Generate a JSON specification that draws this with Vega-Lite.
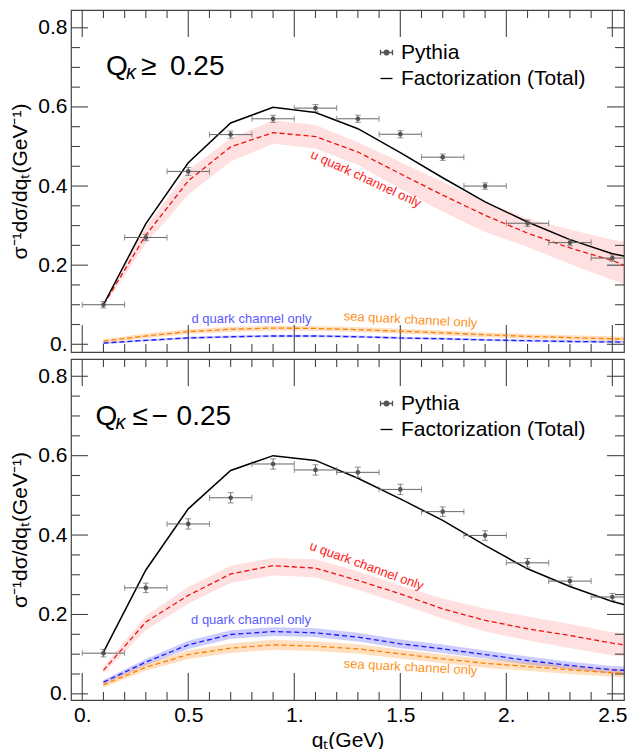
{
  "$schema": "https://vega.github.io/schema/vega-lite/v6.json",
  "padding": {"left": 9, "top": 8, "right": 4, "bottom": 0},
  "config": {
    "font": "Liberation Sans",
    "view": {"stroke": "#444444", "strokeWidth": 1.2},
    "axis": {"labelFont": "Liberation Sans", "titleFont": "Liberation Sans", "labelColor": "#000000", "titleColor": "#000000", "titleFontWeight": "normal", "grid": false, "domain": false, "ticks": false, "labelFlush": false, "labelOverlap": false, "labelFontSize": 21, "labelPadding": 4, "titleFontSize": 21},
    "axisY": {"titlePadding": 7},
    "axisX": {"titlePadding": 4},
    "text": {"font": "Liberation Sans"},
    "rule": {"color": "#444444", "strokeWidth": 1.1}
  },
  "datasets": {
    "top_xmaj": [
      {"v": 0, "b1": -0.0195, "b2": 0.0488, "t1": 0.7767, "t2": 0.845}, {"v": 0.5, "b1": -0.0195, "b2": 0.0488, "t1": 0.7767, "t2": 0.845},
      {"v": 1, "b1": -0.0195, "b2": 0.0488, "t1": 0.7767, "t2": 0.845}, {"v": 1.5, "b1": -0.0195, "b2": 0.0488, "t1": 0.7767, "t2": 0.845},
      {"v": 2, "b1": -0.0195, "b2": 0.0488, "t1": 0.7767, "t2": 0.845}, {"v": 2.5, "b1": -0.0195, "b2": 0.0488, "t1": 0.7767, "t2": 0.845}
    ],
    "top_xmin": [
      {"v": 0.1, "b1": -0.0195, "b2": 0.0007, "t1": 0.8248, "t2": 0.845}, {"v": 0.2, "b1": -0.0195, "b2": 0.0007, "t1": 0.8248, "t2": 0.845},
      {"v": 0.3, "b1": -0.0195, "b2": 0.0007, "t1": 0.8248, "t2": 0.845}, {"v": 0.4, "b1": -0.0195, "b2": 0.0007, "t1": 0.8248, "t2": 0.845},
      {"v": 0.6, "b1": -0.0195, "b2": 0.0007, "t1": 0.8248, "t2": 0.845}, {"v": 0.7, "b1": -0.0195, "b2": 0.0007, "t1": 0.8248, "t2": 0.845},
      {"v": 0.8, "b1": -0.0195, "b2": 0.0007, "t1": 0.8248, "t2": 0.845}, {"v": 0.9, "b1": -0.0195, "b2": 0.0007, "t1": 0.8248, "t2": 0.845},
      {"v": 1.1, "b1": -0.0195, "b2": 0.0007, "t1": 0.8248, "t2": 0.845}, {"v": 1.2, "b1": -0.0195, "b2": 0.0007, "t1": 0.8248, "t2": 0.845},
      {"v": 1.3, "b1": -0.0195, "b2": 0.0007, "t1": 0.8248, "t2": 0.845}, {"v": 1.4, "b1": -0.0195, "b2": 0.0007, "t1": 0.8248, "t2": 0.845},
      {"v": 1.6, "b1": -0.0195, "b2": 0.0007, "t1": 0.8248, "t2": 0.845}, {"v": 1.7, "b1": -0.0195, "b2": 0.0007, "t1": 0.8248, "t2": 0.845},
      {"v": 1.8, "b1": -0.0195, "b2": 0.0007, "t1": 0.8248, "t2": 0.845}, {"v": 1.9, "b1": -0.0195, "b2": 0.0007, "t1": 0.8248, "t2": 0.845},
      {"v": 2.1, "b1": -0.0195, "b2": 0.0007, "t1": 0.8248, "t2": 0.845}, {"v": 2.2, "b1": -0.0195, "b2": 0.0007, "t1": 0.8248, "t2": 0.845},
      {"v": 2.3, "b1": -0.0195, "b2": 0.0007, "t1": 0.8248, "t2": 0.845}, {"v": 2.4, "b1": -0.0195, "b2": 0.0007, "t1": 0.8248, "t2": 0.845}
    ],
    "bot_xmaj": [
      {"v": 0, "b1": -0.0155, "b2": 0.0525, "t1": 0.7755, "t2": 0.8435}, {"v": 0.5, "b1": -0.0155, "b2": 0.0525, "t1": 0.7755, "t2": 0.8435},
      {"v": 1, "b1": -0.0155, "b2": 0.0525, "t1": 0.7755, "t2": 0.8435}, {"v": 1.5, "b1": -0.0155, "b2": 0.0525, "t1": 0.7755, "t2": 0.8435},
      {"v": 2, "b1": -0.0155, "b2": 0.0525, "t1": 0.7755, "t2": 0.8435}, {"v": 2.5, "b1": -0.0155, "b2": 0.0525, "t1": 0.7755, "t2": 0.8435}
    ],
    "bot_xmin": [
      {"v": 0.1, "b1": -0.0155, "b2": 0.0047, "t1": 0.8233, "t2": 0.8435}, {"v": 0.2, "b1": -0.0155, "b2": 0.0047, "t1": 0.8233, "t2": 0.8435},
      {"v": 0.3, "b1": -0.0155, "b2": 0.0047, "t1": 0.8233, "t2": 0.8435}, {"v": 0.4, "b1": -0.0155, "b2": 0.0047, "t1": 0.8233, "t2": 0.8435},
      {"v": 0.6, "b1": -0.0155, "b2": 0.0047, "t1": 0.8233, "t2": 0.8435}, {"v": 0.7, "b1": -0.0155, "b2": 0.0047, "t1": 0.8233, "t2": 0.8435},
      {"v": 0.8, "b1": -0.0155, "b2": 0.0047, "t1": 0.8233, "t2": 0.8435}, {"v": 0.9, "b1": -0.0155, "b2": 0.0047, "t1": 0.8233, "t2": 0.8435},
      {"v": 1.1, "b1": -0.0155, "b2": 0.0047, "t1": 0.8233, "t2": 0.8435}, {"v": 1.2, "b1": -0.0155, "b2": 0.0047, "t1": 0.8233, "t2": 0.8435},
      {"v": 1.3, "b1": -0.0155, "b2": 0.0047, "t1": 0.8233, "t2": 0.8435}, {"v": 1.4, "b1": -0.0155, "b2": 0.0047, "t1": 0.8233, "t2": 0.8435},
      {"v": 1.6, "b1": -0.0155, "b2": 0.0047, "t1": 0.8233, "t2": 0.8435}, {"v": 1.7, "b1": -0.0155, "b2": 0.0047, "t1": 0.8233, "t2": 0.8435},
      {"v": 1.8, "b1": -0.0155, "b2": 0.0047, "t1": 0.8233, "t2": 0.8435}, {"v": 1.9, "b1": -0.0155, "b2": 0.0047, "t1": 0.8233, "t2": 0.8435},
      {"v": 2.1, "b1": -0.0155, "b2": 0.0047, "t1": 0.8233, "t2": 0.8435}, {"v": 2.2, "b1": -0.0155, "b2": 0.0047, "t1": 0.8233, "t2": 0.8435},
      {"v": 2.3, "b1": -0.0155, "b2": 0.0047, "t1": 0.8233, "t2": 0.8435}, {"v": 2.4, "b1": -0.0155, "b2": 0.0047, "t1": 0.8233, "t2": 0.8435}
    ],
    "ymaj": [
      {"v": 0, "l1": -0.053, "l2": 0.0272, "r1": 2.4748, "r2": 2.555}, {"v": 0.2, "l1": -0.053, "l2": 0.0272, "r1": 2.4748, "r2": 2.555},
      {"v": 0.4, "l1": -0.053, "l2": 0.0272, "r1": 2.4748, "r2": 2.555}, {"v": 0.6, "l1": -0.053, "l2": 0.0272, "r1": 2.4748, "r2": 2.555},
      {"v": 0.8, "l1": -0.053, "l2": 0.0272, "r1": 2.4748, "r2": 2.555}
    ],
    "ymin": [
      {"v": 0.05, "l1": -0.053, "l2": -0.0105, "r1": 2.5125, "r2": 2.555}, {"v": 0.1, "l1": -0.053, "l2": -0.0105, "r1": 2.5125, "r2": 2.555},
      {"v": 0.15, "l1": -0.053, "l2": -0.0105, "r1": 2.5125, "r2": 2.555}, {"v": 0.25, "l1": -0.053, "l2": -0.0105, "r1": 2.5125, "r2": 2.555},
      {"v": 0.3, "l1": -0.053, "l2": -0.0105, "r1": 2.5125, "r2": 2.555}, {"v": 0.35, "l1": -0.053, "l2": -0.0105, "r1": 2.5125, "r2": 2.555},
      {"v": 0.45, "l1": -0.053, "l2": -0.0105, "r1": 2.5125, "r2": 2.555}, {"v": 0.5, "l1": -0.053, "l2": -0.0105, "r1": 2.5125, "r2": 2.555},
      {"v": 0.55, "l1": -0.053, "l2": -0.0105, "r1": 2.5125, "r2": 2.555}, {"v": 0.65, "l1": -0.053, "l2": -0.0105, "r1": 2.5125, "r2": 2.555},
      {"v": 0.7, "l1": -0.053, "l2": -0.0105, "r1": 2.5125, "r2": 2.555}, {"v": 0.75, "l1": -0.053, "l2": -0.0105, "r1": 2.5125, "r2": 2.555}
    ],
    "top_theory": [
      {"x": 0.1, "total": 0.100, "u": 0.100, "ulo": 0.094, "uhi": 0.106, "d": 0.003, "dlo": 0.001, "dhi": 0.005, "s": 0.008, "slo": 0.003, "shi": 0.013},
      {"x": 0.3, "total": 0.305, "u": 0.276, "ulo": 0.255, "uhi": 0.297, "d": 0.010, "dlo": 0.007, "dhi": 0.013, "s": 0.021, "slo": 0.015, "shi": 0.027},
      {"x": 0.5, "total": 0.459, "u": 0.413, "ulo": 0.378, "uhi": 0.440, "d": 0.016, "dlo": 0.013, "dhi": 0.019, "s": 0.032, "slo": 0.026, "shi": 0.038},
      {"x": 0.7, "total": 0.5595, "u": 0.499, "ulo": 0.462, "uhi": 0.521, "d": 0.019, "dlo": 0.016, "dhi": 0.022, "s": 0.038, "slo": 0.032, "shi": 0.044},
      {"x": 0.9, "total": 0.599, "u": 0.535, "ulo": 0.507, "uhi": 0.566, "d": 0.021, "dlo": 0.018, "dhi": 0.024, "s": 0.041, "slo": 0.035, "shi": 0.047},
      {"x": 1.1, "total": 0.586, "u": 0.525, "ulo": 0.495, "uhi": 0.554, "d": 0.021, "dlo": 0.018, "dhi": 0.024, "s": 0.040, "slo": 0.034, "shi": 0.046},
      {"x": 1.3, "total": 0.545, "u": 0.486, "ulo": 0.453, "uhi": 0.511, "d": 0.019, "dlo": 0.016, "dhi": 0.022, "s": 0.037, "slo": 0.031, "shi": 0.043},
      {"x": 1.5, "total": 0.4845, "u": 0.431, "ulo": 0.393, "uhi": 0.461, "d": 0.016, "dlo": 0.013, "dhi": 0.019, "s": 0.033, "slo": 0.027, "shi": 0.039},
      {"x": 1.7, "total": 0.421, "u": 0.377, "ulo": 0.335, "uhi": 0.410, "d": 0.014, "dlo": 0.011, "dhi": 0.017, "s": 0.029, "slo": 0.023, "shi": 0.035},
      {"x": 1.9, "total": 0.360, "u": 0.326, "ulo": 0.284, "uhi": 0.360, "d": 0.011, "dlo": 0.008, "dhi": 0.014, "s": 0.024, "slo": 0.018, "shi": 0.030},
      {"x": 2.1, "total": 0.309, "u": 0.281, "ulo": 0.246, "uhi": 0.318, "d": 0.009, "dlo": 0.006, "dhi": 0.012, "s": 0.020, "slo": 0.014, "shi": 0.026},
      {"x": 2.3, "total": 0.2645, "u": 0.2435, "ulo": 0.203, "uhi": 0.290, "d": 0.007, "dlo": 0.004, "dhi": 0.010, "s": 0.017, "slo": 0.011, "shi": 0.023},
      {"x": 2.5, "total": 0.229, "u": 0.212, "ulo": 0.163, "uhi": 0.264, "d": 0.006, "dlo": 0.003, "dhi": 0.009, "s": 0.014, "slo": 0.008, "shi": 0.020},
      {"x": 2.555, "total": 0.223, "u": 0.200, "ulo": 0.150, "uhi": 0.259, "d": 0.0055, "dlo": 0.0025, "dhi": 0.0085, "s": 0.013, "slo": 0.007, "shi": 0.019}
    ],
    "top_pythia": [
      {"x": 0.1, "xlo": 0.0, "xhi": 0.2, "y": 0.100, "ylo": 0.092, "yhi": 0.108},
      {"x": 0.3, "xlo": 0.2, "xhi": 0.4, "y": 0.270, "ylo": 0.262, "yhi": 0.278},
      {"x": 0.5, "xlo": 0.4, "xhi": 0.6, "y": 0.437, "ylo": 0.427, "yhi": 0.447},
      {"x": 0.7, "xlo": 0.6, "xhi": 0.8, "y": 0.530, "ylo": 0.521, "yhi": 0.539},
      {"x": 0.9, "xlo": 0.8, "xhi": 1.0, "y": 0.570, "ylo": 0.561, "yhi": 0.579},
      {"x": 1.1, "xlo": 1.0, "xhi": 1.2, "y": 0.597, "ylo": 0.588, "yhi": 0.606},
      {"x": 1.3, "xlo": 1.2, "xhi": 1.4, "y": 0.570, "ylo": 0.561, "yhi": 0.579},
      {"x": 1.5, "xlo": 1.4, "xhi": 1.6, "y": 0.531, "ylo": 0.522, "yhi": 0.540},
      {"x": 1.7, "xlo": 1.6, "xhi": 1.8, "y": 0.473, "ylo": 0.465, "yhi": 0.481},
      {"x": 1.9, "xlo": 1.8, "xhi": 2.0, "y": 0.400, "ylo": 0.392, "yhi": 0.408},
      {"x": 2.1, "xlo": 2.0, "xhi": 2.2, "y": 0.306, "ylo": 0.298, "yhi": 0.314},
      {"x": 2.3, "xlo": 2.2, "xhi": 2.4, "y": 0.257, "ylo": 0.249, "yhi": 0.265},
      {"x": 2.5, "xlo": 2.4, "xhi": 2.6, "y": 0.218, "ylo": 0.210, "yhi": 0.226}
    ],
    "bot_theory": [
      {"x": 0.1, "total": 0.105, "u": 0.059, "ulo": 0.052, "uhi": 0.068, "d": 0.0295, "dlo": 0.024, "dhi": 0.035, "s": 0.0227, "slo": 0.016, "shi": 0.030},
      {"x": 0.3, "total": 0.312, "u": 0.181, "ulo": 0.160, "uhi": 0.197, "d": 0.080, "dlo": 0.072, "dhi": 0.088, "s": 0.067, "slo": 0.058, "shi": 0.076},
      {"x": 0.5, "total": 0.466, "u": 0.248, "ulo": 0.227, "uhi": 0.269, "d": 0.1235, "dlo": 0.113, "dhi": 0.134, "s": 0.099, "slo": 0.088, "shi": 0.110},
      {"x": 0.7, "total": 0.5626, "u": 0.302, "ulo": 0.279, "uhi": 0.323, "d": 0.1495, "dlo": 0.139, "dhi": 0.160, "s": 0.115, "slo": 0.103, "shi": 0.127},
      {"x": 0.9, "total": 0.600, "u": 0.323, "ulo": 0.299, "uhi": 0.342, "d": 0.157, "dlo": 0.146, "dhi": 0.168, "s": 0.1235, "slo": 0.111, "shi": 0.136},
      {"x": 1.1, "total": 0.588, "u": 0.3166, "ulo": 0.293, "uhi": 0.339, "d": 0.1537, "dlo": 0.143, "dhi": 0.165, "s": 0.120, "slo": 0.108, "shi": 0.132},
      {"x": 1.3, "total": 0.543, "u": 0.2856, "ulo": 0.262, "uhi": 0.309, "d": 0.1428, "dlo": 0.132, "dhi": 0.154, "s": 0.1134, "slo": 0.101, "shi": 0.125},
      {"x": 1.5, "total": 0.491, "u": 0.252, "ulo": 0.227, "uhi": 0.273, "d": 0.126, "dlo": 0.115, "dhi": 0.137, "s": 0.1008, "slo": 0.089, "shi": 0.112},
      {"x": 1.7, "total": 0.437, "u": 0.214, "ulo": 0.189, "uhi": 0.240, "d": 0.1134, "dlo": 0.103, "dhi": 0.124, "s": 0.088, "slo": 0.077, "shi": 0.099},
      {"x": 1.9, "total": 0.374, "u": 0.185, "ulo": 0.157, "uhi": 0.215, "d": 0.099, "dlo": 0.089, "dhi": 0.109, "s": 0.077, "slo": 0.066, "shi": 0.088},
      {"x": 2.1, "total": 0.315, "u": 0.164, "ulo": 0.135, "uhi": 0.195, "d": 0.084, "dlo": 0.074, "dhi": 0.094, "s": 0.069, "slo": 0.058, "shi": 0.080},
      {"x": 2.3, "total": 0.2705, "u": 0.147, "ulo": 0.115, "uhi": 0.176, "d": 0.0714, "dlo": 0.062, "dhi": 0.081, "s": 0.0605, "slo": 0.050, "shi": 0.071},
      {"x": 2.5, "total": 0.2327, "u": 0.1277, "ulo": 0.097, "uhi": 0.155, "d": 0.0605, "dlo": 0.051, "dhi": 0.070, "s": 0.053, "slo": 0.043, "shi": 0.063},
      {"x": 2.555, "total": 0.225, "u": 0.1235, "ulo": 0.094, "uhi": 0.153, "d": 0.0595, "dlo": 0.050, "dhi": 0.069, "s": 0.052, "slo": 0.042, "shi": 0.062}
    ],
    "bot_pythia": [
      {"x": 0.1, "xlo": 0.0, "xhi": 0.2, "y": 0.1025, "ylo": 0.093, "yhi": 0.112},
      {"x": 0.3, "xlo": 0.2, "xhi": 0.4, "y": 0.267, "ylo": 0.255, "yhi": 0.279},
      {"x": 0.5, "xlo": 0.4, "xhi": 0.6, "y": 0.428, "ylo": 0.415, "yhi": 0.441},
      {"x": 0.7, "xlo": 0.6, "xhi": 0.8, "y": 0.494, "ylo": 0.481, "yhi": 0.507},
      {"x": 0.9, "xlo": 0.8, "xhi": 1.0, "y": 0.579, "ylo": 0.566, "yhi": 0.592},
      {"x": 1.1, "xlo": 1.0, "xhi": 1.2, "y": 0.564, "ylo": 0.551, "yhi": 0.577},
      {"x": 1.3, "xlo": 1.2, "xhi": 1.4, "y": 0.558, "ylo": 0.545, "yhi": 0.571},
      {"x": 1.5, "xlo": 1.4, "xhi": 1.6, "y": 0.515, "ylo": 0.502, "yhi": 0.528},
      {"x": 1.7, "xlo": 1.6, "xhi": 1.8, "y": 0.459, "ylo": 0.447, "yhi": 0.471},
      {"x": 1.9, "xlo": 1.8, "xhi": 2.0, "y": 0.399, "ylo": 0.387, "yhi": 0.411},
      {"x": 2.1, "xlo": 2.0, "xhi": 2.2, "y": 0.330, "ylo": 0.319, "yhi": 0.341},
      {"x": 2.3, "xlo": 2.2, "xhi": 2.4, "y": 0.284, "ylo": 0.274, "yhi": 0.294},
      {"x": 2.5, "xlo": 2.4, "xhi": 2.6, "y": 0.244, "ylo": 0.235, "yhi": 0.253}
    ]
  },
  "spacing": 2,
  "resolve": {"scale": {"color": "independent"}, "legend": {"color": "independent"}},
  "vconcat": [
    {
      "width": 553, "height": 342,
      "layer": [
        {"data": {"name": "top_theory"}, "mark": {"type": "area", "fill": "#ff0000", "opacity": 0.12, "clip": true},
         "encoding": {
           "x": {"field": "x", "type": "quantitative", "scale": {"domain": [-0.053, 2.555], "nice": false, "zero": false}, "axis": null},
           "y": {"field": "ulo", "type": "quantitative", "scale": {"domain": [-0.0195, 0.845], "nice": false, "zero": false}, "axis": {"values": [0, 0.2, 0.4, 0.6, 0.8], "labelExpr": "datum.value == 0 ? '0.' : format(datum.value, '.1f')", "title": "σ⁻¹dσ/dqₜ(GeV⁻¹)"}},
           "y2": {"field": "uhi"}}},
        {"data": {"name": "top_theory"}, "mark": {"type": "area", "fill": "#0000ff", "opacity": 0.2, "clip": true},
         "encoding": {
           "x": {"field": "x", "type": "quantitative", "scale": {"domain": [-0.053, 2.555], "nice": false, "zero": false}, "axis": null},
           "y": {"field": "dlo", "type": "quantitative", "scale": {"domain": [-0.0195, 0.845], "nice": false, "zero": false}, "axis": {"values": [0, 0.2, 0.4, 0.6, 0.8], "labelExpr": "datum.value == 0 ? '0.' : format(datum.value, '.1f')", "title": "σ⁻¹dσ/dqₜ(GeV⁻¹)"}},
           "y2": {"field": "dhi"}}},
        {"data": {"name": "top_theory"}, "mark": {"type": "area", "fill": "#ff8000", "opacity": 0.25, "clip": true},
         "encoding": {
           "x": {"field": "x", "type": "quantitative", "scale": {"domain": [-0.053, 2.555], "nice": false, "zero": false}, "axis": null},
           "y": {"field": "slo", "type": "quantitative", "scale": {"domain": [-0.0195, 0.845], "nice": false, "zero": false}, "axis": {"values": [0, 0.2, 0.4, 0.6, 0.8], "labelExpr": "datum.value == 0 ? '0.' : format(datum.value, '.1f')", "title": "σ⁻¹dσ/dqₜ(GeV⁻¹)"}},
           "y2": {"field": "shi"}}},
        {"data": {"name": "top_xmaj"}, "mark": {"type": "rule"},
         "encoding": {
           "x": {"field": "v", "type": "quantitative", "scale": {"domain": [-0.053, 2.555], "nice": false, "zero": false}, "axis": null},
           "y": {"field": "b1", "type": "quantitative", "scale": {"domain": [-0.0195, 0.845], "nice": false, "zero": false}, "axis": {"values": [0, 0.2, 0.4, 0.6, 0.8], "labelExpr": "datum.value == 0 ? '0.' : format(datum.value, '.1f')", "title": "σ⁻¹dσ/dqₜ(GeV⁻¹)"}},
           "y2": {"field": "b2"}}},
        {"data": {"name": "top_xmaj"}, "mark": {"type": "rule"},
         "encoding": {
           "x": {"field": "v", "type": "quantitative", "scale": {"domain": [-0.053, 2.555], "nice": false, "zero": false}, "axis": null},
           "y": {"field": "t1", "type": "quantitative", "scale": {"domain": [-0.0195, 0.845], "nice": false, "zero": false}, "axis": {"values": [0, 0.2, 0.4, 0.6, 0.8], "labelExpr": "datum.value == 0 ? '0.' : format(datum.value, '.1f')", "title": "σ⁻¹dσ/dqₜ(GeV⁻¹)"}},
           "y2": {"field": "t2"}}},
        {"data": {"name": "top_xmin"}, "mark": {"type": "rule"},
         "encoding": {
           "x": {"field": "v", "type": "quantitative", "scale": {"domain": [-0.053, 2.555], "nice": false, "zero": false}, "axis": null},
           "y": {"field": "b1", "type": "quantitative", "scale": {"domain": [-0.0195, 0.845], "nice": false, "zero": false}, "axis": {"values": [0, 0.2, 0.4, 0.6, 0.8], "labelExpr": "datum.value == 0 ? '0.' : format(datum.value, '.1f')", "title": "σ⁻¹dσ/dqₜ(GeV⁻¹)"}},
           "y2": {"field": "b2"}}},
        {"data": {"name": "top_xmin"}, "mark": {"type": "rule"},
         "encoding": {
           "x": {"field": "v", "type": "quantitative", "scale": {"domain": [-0.053, 2.555], "nice": false, "zero": false}, "axis": null},
           "y": {"field": "t1", "type": "quantitative", "scale": {"domain": [-0.0195, 0.845], "nice": false, "zero": false}, "axis": {"values": [0, 0.2, 0.4, 0.6, 0.8], "labelExpr": "datum.value == 0 ? '0.' : format(datum.value, '.1f')", "title": "σ⁻¹dσ/dqₜ(GeV⁻¹)"}},
           "y2": {"field": "t2"}}},
        {"data": {"name": "ymaj"}, "mark": {"type": "rule"},
         "encoding": {
           "x": {"field": "l1", "type": "quantitative", "scale": {"domain": [-0.053, 2.555], "nice": false, "zero": false}, "axis": null},
           "x2": {"field": "l2"},
           "y": {"field": "v", "type": "quantitative", "scale": {"domain": [-0.0195, 0.845], "nice": false, "zero": false}, "axis": {"values": [0, 0.2, 0.4, 0.6, 0.8], "labelExpr": "datum.value == 0 ? '0.' : format(datum.value, '.1f')", "title": "σ⁻¹dσ/dqₜ(GeV⁻¹)"}}}},
        {"data": {"name": "ymaj"}, "mark": {"type": "rule"},
         "encoding": {
           "x": {"field": "r1", "type": "quantitative", "scale": {"domain": [-0.053, 2.555], "nice": false, "zero": false}, "axis": null},
           "x2": {"field": "r2"},
           "y": {"field": "v", "type": "quantitative", "scale": {"domain": [-0.0195, 0.845], "nice": false, "zero": false}, "axis": {"values": [0, 0.2, 0.4, 0.6, 0.8], "labelExpr": "datum.value == 0 ? '0.' : format(datum.value, '.1f')", "title": "σ⁻¹dσ/dqₜ(GeV⁻¹)"}}}},
        {"data": {"name": "ymin"}, "mark": {"type": "rule"},
         "encoding": {
           "x": {"field": "l1", "type": "quantitative", "scale": {"domain": [-0.053, 2.555], "nice": false, "zero": false}, "axis": null},
           "x2": {"field": "l2"},
           "y": {"field": "v", "type": "quantitative", "scale": {"domain": [-0.0195, 0.845], "nice": false, "zero": false}, "axis": {"values": [0, 0.2, 0.4, 0.6, 0.8], "labelExpr": "datum.value == 0 ? '0.' : format(datum.value, '.1f')", "title": "σ⁻¹dσ/dqₜ(GeV⁻¹)"}}}},
        {"data": {"name": "ymin"}, "mark": {"type": "rule"},
         "encoding": {
           "x": {"field": "r1", "type": "quantitative", "scale": {"domain": [-0.053, 2.555], "nice": false, "zero": false}, "axis": null},
           "x2": {"field": "r2"},
           "y": {"field": "v", "type": "quantitative", "scale": {"domain": [-0.0195, 0.845], "nice": false, "zero": false}, "axis": {"values": [0, 0.2, 0.4, 0.6, 0.8], "labelExpr": "datum.value == 0 ? '0.' : format(datum.value, '.1f')", "title": "σ⁻¹dσ/dqₜ(GeV⁻¹)"}}}},
        {"data": {"name": "top_theory"}, "mark": {"type": "line", "stroke": "#ee1111", "strokeWidth": 1.3, "strokeDash": [5, 3], "clip": true},
         "encoding": {
           "x": {"field": "x", "type": "quantitative", "scale": {"domain": [-0.053, 2.555], "nice": false, "zero": false}, "axis": null},
           "y": {"field": "u", "type": "quantitative", "scale": {"domain": [-0.0195, 0.845], "nice": false, "zero": false}, "axis": {"values": [0, 0.2, 0.4, 0.6, 0.8], "labelExpr": "datum.value == 0 ? '0.' : format(datum.value, '.1f')", "title": "σ⁻¹dσ/dqₜ(GeV⁻¹)"}}}},
        {"data": {"name": "top_theory"}, "mark": {"type": "line", "stroke": "#1a1aff", "strokeWidth": 1.3, "strokeDash": [5, 3], "clip": true},
         "encoding": {
           "x": {"field": "x", "type": "quantitative", "scale": {"domain": [-0.053, 2.555], "nice": false, "zero": false}, "axis": null},
           "y": {"field": "d", "type": "quantitative", "scale": {"domain": [-0.0195, 0.845], "nice": false, "zero": false}, "axis": {"values": [0, 0.2, 0.4, 0.6, 0.8], "labelExpr": "datum.value == 0 ? '0.' : format(datum.value, '.1f')", "title": "σ⁻¹dσ/dqₜ(GeV⁻¹)"}}}},
        {"data": {"name": "top_theory"}, "mark": {"type": "line", "stroke": "#ff8000", "strokeWidth": 1.3, "strokeDash": [5, 3], "clip": true},
         "encoding": {
           "x": {"field": "x", "type": "quantitative", "scale": {"domain": [-0.053, 2.555], "nice": false, "zero": false}, "axis": null},
           "y": {"field": "s", "type": "quantitative", "scale": {"domain": [-0.0195, 0.845], "nice": false, "zero": false}, "axis": {"values": [0, 0.2, 0.4, 0.6, 0.8], "labelExpr": "datum.value == 0 ? '0.' : format(datum.value, '.1f')", "title": "σ⁻¹dσ/dqₜ(GeV⁻¹)"}}}},
        {"data": {"name": "top_theory"}, "mark": {"type": "line", "strokeWidth": 1.5, "clip": true},
         "encoding": {
           "x": {"field": "x", "type": "quantitative", "scale": {"domain": [-0.053, 2.555], "nice": false, "zero": false}, "axis": null},
           "y": {"field": "total", "type": "quantitative", "scale": {"domain": [-0.0195, 0.845], "nice": false, "zero": false}, "axis": {"values": [0, 0.2, 0.4, 0.6, 0.8], "labelExpr": "datum.value == 0 ? '0.' : format(datum.value, '.1f')", "title": "σ⁻¹dσ/dqₜ(GeV⁻¹)"}},
           "color": {"datum": "Factorization (Total)", "type": "nominal", "scale": {"domain": ["Pythia", "Factorization (Total)"], "range": ["#555555", "#000000"]},
             "legend": {"title": null, "orient": "none", "legendX": 305, "legendY": 32, "padding": 0, "labelFont": "Liberation Sans", "labelFontSize": 21, "labelColor": "#000000", "labelOffset": 4, "labelLimit": 400, "rowPadding": 4, "symbolSize": 144, "symbolStrokeWidth": 1.3,
               "encode": {"symbols": {"update": {
                 "shape": {"signal": "datum.value === 'Pythia' ? 'M-1,0H1M-1,-0.45V0.45M1,-0.45V0.45M-0.4,0A0.4,0.4,0,1,0,0.4,0A0.4,0.4,0,1,0,-0.4,0Z' : 'M-1,0H1'"},
                 "fill": {"signal": "datum.value === 'Pythia' ? '#555555' : 'transparent'"},
                 "stroke": {"signal": "datum.value === 'Pythia' ? '#555555' : '#000000'"},
                 "opacity": {"value": 1}}}}}}}},
        {"data": {"name": "top_pythia"}, "mark": {"type": "rule", "stroke": "#666666", "strokeWidth": 1, "clip": true},
         "encoding": {
           "x": {"field": "xlo", "type": "quantitative", "scale": {"domain": [-0.053, 2.555], "nice": false, "zero": false}, "axis": null},
           "x2": {"field": "xhi"},
           "y": {"field": "y", "type": "quantitative", "scale": {"domain": [-0.0195, 0.845], "nice": false, "zero": false}, "axis": {"values": [0, 0.2, 0.4, 0.6, 0.8], "labelExpr": "datum.value == 0 ? '0.' : format(datum.value, '.1f')", "title": "σ⁻¹dσ/dqₜ(GeV⁻¹)"}}}},
        {"data": {"name": "top_pythia"}, "mark": {"type": "rule", "stroke": "#666666", "strokeWidth": 1, "clip": true},
         "encoding": {
           "x": {"field": "x", "type": "quantitative", "scale": {"domain": [-0.053, 2.555], "nice": false, "zero": false}, "axis": null},
           "y": {"field": "ylo", "type": "quantitative", "scale": {"domain": [-0.0195, 0.845], "nice": false, "zero": false}, "axis": {"values": [0, 0.2, 0.4, 0.6, 0.8], "labelExpr": "datum.value == 0 ? '0.' : format(datum.value, '.1f')", "title": "σ⁻¹dσ/dqₜ(GeV⁻¹)"}},
           "y2": {"field": "yhi"}}},
        {"data": {"name": "top_pythia"}, "transform": [{"fold": ["xlo", "xhi"], "as": ["k", "xc"]}],
         "mark": {"type": "tick", "orient": "vertical", "color": "#666666", "size": 6, "thickness": 1, "clip": true},
         "encoding": {
           "x": {"field": "xc", "type": "quantitative", "scale": {"domain": [-0.053, 2.555], "nice": false, "zero": false}, "axis": null},
           "y": {"field": "y", "type": "quantitative", "scale": {"domain": [-0.0195, 0.845], "nice": false, "zero": false}, "axis": {"values": [0, 0.2, 0.4, 0.6, 0.8], "labelExpr": "datum.value == 0 ? '0.' : format(datum.value, '.1f')", "title": "σ⁻¹dσ/dqₜ(GeV⁻¹)"}}}},
        {"data": {"name": "top_pythia"}, "transform": [{"fold": ["ylo", "yhi"], "as": ["k", "yc"]}],
         "mark": {"type": "tick", "orient": "horizontal", "color": "#666666", "size": 6, "thickness": 1, "clip": true},
         "encoding": {
           "x": {"field": "x", "type": "quantitative", "scale": {"domain": [-0.053, 2.555], "nice": false, "zero": false}, "axis": null},
           "y": {"field": "yc", "type": "quantitative", "scale": {"domain": [-0.0195, 0.845], "nice": false, "zero": false}, "axis": {"values": [0, 0.2, 0.4, 0.6, 0.8], "labelExpr": "datum.value == 0 ? '0.' : format(datum.value, '.1f')", "title": "σ⁻¹dσ/dqₜ(GeV⁻¹)"}}}},
        {"data": {"name": "top_pythia"}, "mark": {"type": "point", "filled": true, "size": 22, "opacity": 1, "clip": true},
         "encoding": {
           "x": {"field": "x", "type": "quantitative", "scale": {"domain": [-0.053, 2.555], "nice": false, "zero": false}, "axis": null},
           "y": {"field": "y", "type": "quantitative", "scale": {"domain": [-0.0195, 0.845], "nice": false, "zero": false}, "axis": {"values": [0, 0.2, 0.4, 0.6, 0.8], "labelExpr": "datum.value == 0 ? '0.' : format(datum.value, '.1f')", "title": "σ⁻¹dσ/dqₜ(GeV⁻¹)"}},
           "color": {"datum": "Pythia", "type": "nominal", "scale": {"domain": ["Pythia", "Factorization (Total)"], "range": ["#555555", "#000000"]}}}},
        {"data": {"values": [{"x": 1.338, "y": 0.418, "label": "u quark channel only"}]}, "mark": {"type": "text", "color": "#ff2020", "fontSize": 13, "angle": 24.7, "align": "center", "baseline": "middle"},
         "encoding": {
           "x": {"field": "x", "type": "quantitative", "scale": {"domain": [-0.053, 2.555], "nice": false, "zero": false}, "axis": null},
           "y": {"field": "y", "type": "quantitative", "scale": {"domain": [-0.0195, 0.845], "nice": false, "zero": false}, "axis": {"values": [0, 0.2, 0.4, 0.6, 0.8], "labelExpr": "datum.value == 0 ? '0.' : format(datum.value, '.1f')", "title": "σ⁻¹dσ/dqₜ(GeV⁻¹)"}},
           "text": {"field": "label"}}},
        {"data": {"values": [{"x": 0.798, "y": 0.063, "label": "d quark channel only"}]}, "mark": {"type": "text", "color": "#5a5aff", "fontSize": 13, "align": "center", "baseline": "middle"},
         "encoding": {
           "x": {"field": "x", "type": "quantitative", "scale": {"domain": [-0.053, 2.555], "nice": false, "zero": false}, "axis": null},
           "y": {"field": "y", "type": "quantitative", "scale": {"domain": [-0.0195, 0.845], "nice": false, "zero": false}, "axis": {"values": [0, 0.2, 0.4, 0.6, 0.8], "labelExpr": "datum.value == 0 ? '0.' : format(datum.value, '.1f')", "title": "σ⁻¹dσ/dqₜ(GeV⁻¹)"}},
           "text": {"field": "label"}}},
        {"data": {"values": [{"x": 1.548, "y": 0.062, "label": "sea quark channel only"}]}, "mark": {"type": "text", "color": "#ff9020", "fontSize": 13, "angle": 3, "align": "center", "baseline": "middle"},
         "encoding": {
           "x": {"field": "x", "type": "quantitative", "scale": {"domain": [-0.053, 2.555], "nice": false, "zero": false}, "axis": null},
           "y": {"field": "y", "type": "quantitative", "scale": {"domain": [-0.0195, 0.845], "nice": false, "zero": false}, "axis": {"values": [0, 0.2, 0.4, 0.6, 0.8], "labelExpr": "datum.value == 0 ? '0.' : format(datum.value, '.1f')", "title": "σ⁻¹dσ/dqₜ(GeV⁻¹)"}},
           "text": {"field": "label"}}},
        {"data": {"values": [{"x": 0.112, "y": 0.680}]}, "mark": {"type": "text", "text": "Q", "fontSize": 28, "color": "#000000", "align": "left", "baseline": "alphabetic"},
         "encoding": {
           "x": {"field": "x", "type": "quantitative", "scale": {"domain": [-0.053, 2.555], "nice": false, "zero": false}, "axis": null},
           "y": {"field": "y", "type": "quantitative", "scale": {"domain": [-0.0195, 0.845], "nice": false, "zero": false}, "axis": {"values": [0, 0.2, 0.4, 0.6, 0.8], "labelExpr": "datum.value == 0 ? '0.' : format(datum.value, '.1f')", "title": "σ⁻¹dσ/dqₜ(GeV⁻¹)"}}}},
        {"data": {"values": [{"x": 0.112, "y": 0.680}]}, "mark": {"type": "text", "text": "κ", "fontSize": 20, "fontStyle": "italic", "color": "#000000", "align": "left", "baseline": "alphabetic", "dx": 20, "dy": 4},
         "encoding": {
           "x": {"field": "x", "type": "quantitative", "scale": {"domain": [-0.053, 2.555], "nice": false, "zero": false}, "axis": null},
           "y": {"field": "y", "type": "quantitative", "scale": {"domain": [-0.0195, 0.845], "nice": false, "zero": false}, "axis": {"values": [0, 0.2, 0.4, 0.6, 0.8], "labelExpr": "datum.value == 0 ? '0.' : format(datum.value, '.1f')", "title": "σ⁻¹dσ/dqₜ(GeV⁻¹)"}}}},
        {"data": {"values": [{"x": 0.112, "y": 0.680}]}, "mark": {"type": "text", "text": "≥", "fontSize": 28, "color": "#000000", "align": "left", "baseline": "alphabetic", "dx": 35},
         "encoding": {
           "x": {"field": "x", "type": "quantitative", "scale": {"domain": [-0.053, 2.555], "nice": false, "zero": false}, "axis": null},
           "y": {"field": "y", "type": "quantitative", "scale": {"domain": [-0.0195, 0.845], "nice": false, "zero": false}, "axis": {"values": [0, 0.2, 0.4, 0.6, 0.8], "labelExpr": "datum.value == 0 ? '0.' : format(datum.value, '.1f')", "title": "σ⁻¹dσ/dqₜ(GeV⁻¹)"}}}},
        {"data": {"values": [{"x": 0.112, "y": 0.680}]}, "mark": {"type": "text", "text": "0.25", "fontSize": 28, "color": "#000000", "align": "left", "baseline": "alphabetic", "dx": 64},
         "encoding": {
           "x": {"field": "x", "type": "quantitative", "scale": {"domain": [-0.053, 2.555], "nice": false, "zero": false}, "axis": null},
           "y": {"field": "y", "type": "quantitative", "scale": {"domain": [-0.0195, 0.845], "nice": false, "zero": false}, "axis": {"values": [0, 0.2, 0.4, 0.6, 0.8], "labelExpr": "datum.value == 0 ? '0.' : format(datum.value, '.1f')", "title": "σ⁻¹dσ/dqₜ(GeV⁻¹)"}}}}
      ]
    },
    {
      "width": 553, "height": 341,
      "layer": [
        {"data": {"name": "bot_theory"}, "mark": {"type": "area", "fill": "#ff0000", "opacity": 0.12, "clip": true},
         "encoding": {
           "x": {"field": "x", "type": "quantitative", "scale": {"domain": [-0.053, 2.555], "nice": false, "zero": false}, "axis": {"values": [0, 0.5, 1, 1.5, 2, 2.5], "labelExpr": "datum.value == 0 ? '0.' : (datum.value % 1 == 0 ? format(datum.value, 'd') + '.' : format(datum.value, '.1f'))", "title": "qₜ(GeV)"}},
           "y": {"field": "ulo", "type": "quantitative", "scale": {"domain": [-0.0155, 0.8435], "nice": false, "zero": false}, "axis": {"values": [0, 0.2, 0.4, 0.6, 0.8], "labelExpr": "datum.value == 0 ? '0.' : format(datum.value, '.1f')", "title": "σ⁻¹dσ/dqₜ(GeV⁻¹)"}},
           "y2": {"field": "uhi"}}},
        {"data": {"name": "bot_theory"}, "mark": {"type": "area", "fill": "#0000ff", "opacity": 0.2, "clip": true},
         "encoding": {
           "x": {"field": "x", "type": "quantitative", "scale": {"domain": [-0.053, 2.555], "nice": false, "zero": false}, "axis": {"values": [0, 0.5, 1, 1.5, 2, 2.5], "labelExpr": "datum.value == 0 ? '0.' : (datum.value % 1 == 0 ? format(datum.value, 'd') + '.' : format(datum.value, '.1f'))", "title": "qₜ(GeV)"}},
           "y": {"field": "dlo", "type": "quantitative", "scale": {"domain": [-0.0155, 0.8435], "nice": false, "zero": false}, "axis": {"values": [0, 0.2, 0.4, 0.6, 0.8], "labelExpr": "datum.value == 0 ? '0.' : format(datum.value, '.1f')", "title": "σ⁻¹dσ/dqₜ(GeV⁻¹)"}},
           "y2": {"field": "dhi"}}},
        {"data": {"name": "bot_theory"}, "mark": {"type": "area", "fill": "#ff8000", "opacity": 0.25, "clip": true},
         "encoding": {
           "x": {"field": "x", "type": "quantitative", "scale": {"domain": [-0.053, 2.555], "nice": false, "zero": false}, "axis": {"values": [0, 0.5, 1, 1.5, 2, 2.5], "labelExpr": "datum.value == 0 ? '0.' : (datum.value % 1 == 0 ? format(datum.value, 'd') + '.' : format(datum.value, '.1f'))", "title": "qₜ(GeV)"}},
           "y": {"field": "slo", "type": "quantitative", "scale": {"domain": [-0.0155, 0.8435], "nice": false, "zero": false}, "axis": {"values": [0, 0.2, 0.4, 0.6, 0.8], "labelExpr": "datum.value == 0 ? '0.' : format(datum.value, '.1f')", "title": "σ⁻¹dσ/dqₜ(GeV⁻¹)"}},
           "y2": {"field": "shi"}}},
        {"data": {"name": "bot_xmaj"}, "mark": {"type": "rule"},
         "encoding": {
           "x": {"field": "v", "type": "quantitative", "scale": {"domain": [-0.053, 2.555], "nice": false, "zero": false}, "axis": {"values": [0, 0.5, 1, 1.5, 2, 2.5], "labelExpr": "datum.value == 0 ? '0.' : (datum.value % 1 == 0 ? format(datum.value, 'd') + '.' : format(datum.value, '.1f'))", "title": "qₜ(GeV)"}},
           "y": {"field": "b1", "type": "quantitative", "scale": {"domain": [-0.0155, 0.8435], "nice": false, "zero": false}, "axis": {"values": [0, 0.2, 0.4, 0.6, 0.8], "labelExpr": "datum.value == 0 ? '0.' : format(datum.value, '.1f')", "title": "σ⁻¹dσ/dqₜ(GeV⁻¹)"}},
           "y2": {"field": "b2"}}},
        {"data": {"name": "bot_xmaj"}, "mark": {"type": "rule"},
         "encoding": {
           "x": {"field": "v", "type": "quantitative", "scale": {"domain": [-0.053, 2.555], "nice": false, "zero": false}, "axis": {"values": [0, 0.5, 1, 1.5, 2, 2.5], "labelExpr": "datum.value == 0 ? '0.' : (datum.value % 1 == 0 ? format(datum.value, 'd') + '.' : format(datum.value, '.1f'))", "title": "qₜ(GeV)"}},
           "y": {"field": "t1", "type": "quantitative", "scale": {"domain": [-0.0155, 0.8435], "nice": false, "zero": false}, "axis": {"values": [0, 0.2, 0.4, 0.6, 0.8], "labelExpr": "datum.value == 0 ? '0.' : format(datum.value, '.1f')", "title": "σ⁻¹dσ/dqₜ(GeV⁻¹)"}},
           "y2": {"field": "t2"}}},
        {"data": {"name": "bot_xmin"}, "mark": {"type": "rule"},
         "encoding": {
           "x": {"field": "v", "type": "quantitative", "scale": {"domain": [-0.053, 2.555], "nice": false, "zero": false}, "axis": {"values": [0, 0.5, 1, 1.5, 2, 2.5], "labelExpr": "datum.value == 0 ? '0.' : (datum.value % 1 == 0 ? format(datum.value, 'd') + '.' : format(datum.value, '.1f'))", "title": "qₜ(GeV)"}},
           "y": {"field": "b1", "type": "quantitative", "scale": {"domain": [-0.0155, 0.8435], "nice": false, "zero": false}, "axis": {"values": [0, 0.2, 0.4, 0.6, 0.8], "labelExpr": "datum.value == 0 ? '0.' : format(datum.value, '.1f')", "title": "σ⁻¹dσ/dqₜ(GeV⁻¹)"}},
           "y2": {"field": "b2"}}},
        {"data": {"name": "bot_xmin"}, "mark": {"type": "rule"},
         "encoding": {
           "x": {"field": "v", "type": "quantitative", "scale": {"domain": [-0.053, 2.555], "nice": false, "zero": false}, "axis": {"values": [0, 0.5, 1, 1.5, 2, 2.5], "labelExpr": "datum.value == 0 ? '0.' : (datum.value % 1 == 0 ? format(datum.value, 'd') + '.' : format(datum.value, '.1f'))", "title": "qₜ(GeV)"}},
           "y": {"field": "t1", "type": "quantitative", "scale": {"domain": [-0.0155, 0.8435], "nice": false, "zero": false}, "axis": {"values": [0, 0.2, 0.4, 0.6, 0.8], "labelExpr": "datum.value == 0 ? '0.' : format(datum.value, '.1f')", "title": "σ⁻¹dσ/dqₜ(GeV⁻¹)"}},
           "y2": {"field": "t2"}}},
        {"data": {"name": "ymaj"}, "mark": {"type": "rule"},
         "encoding": {
           "x": {"field": "l1", "type": "quantitative", "scale": {"domain": [-0.053, 2.555], "nice": false, "zero": false}, "axis": {"values": [0, 0.5, 1, 1.5, 2, 2.5], "labelExpr": "datum.value == 0 ? '0.' : (datum.value % 1 == 0 ? format(datum.value, 'd') + '.' : format(datum.value, '.1f'))", "title": "qₜ(GeV)"}},
           "x2": {"field": "l2"},
           "y": {"field": "v", "type": "quantitative", "scale": {"domain": [-0.0155, 0.8435], "nice": false, "zero": false}, "axis": {"values": [0, 0.2, 0.4, 0.6, 0.8], "labelExpr": "datum.value == 0 ? '0.' : format(datum.value, '.1f')", "title": "σ⁻¹dσ/dqₜ(GeV⁻¹)"}}}},
        {"data": {"name": "ymaj"}, "mark": {"type": "rule"},
         "encoding": {
           "x": {"field": "r1", "type": "quantitative", "scale": {"domain": [-0.053, 2.555], "nice": false, "zero": false}, "axis": {"values": [0, 0.5, 1, 1.5, 2, 2.5], "labelExpr": "datum.value == 0 ? '0.' : (datum.value % 1 == 0 ? format(datum.value, 'd') + '.' : format(datum.value, '.1f'))", "title": "qₜ(GeV)"}},
           "x2": {"field": "r2"},
           "y": {"field": "v", "type": "quantitative", "scale": {"domain": [-0.0155, 0.8435], "nice": false, "zero": false}, "axis": {"values": [0, 0.2, 0.4, 0.6, 0.8], "labelExpr": "datum.value == 0 ? '0.' : format(datum.value, '.1f')", "title": "σ⁻¹dσ/dqₜ(GeV⁻¹)"}}}},
        {"data": {"name": "ymin"}, "mark": {"type": "rule"},
         "encoding": {
           "x": {"field": "l1", "type": "quantitative", "scale": {"domain": [-0.053, 2.555], "nice": false, "zero": false}, "axis": {"values": [0, 0.5, 1, 1.5, 2, 2.5], "labelExpr": "datum.value == 0 ? '0.' : (datum.value % 1 == 0 ? format(datum.value, 'd') + '.' : format(datum.value, '.1f'))", "title": "qₜ(GeV)"}},
           "x2": {"field": "l2"},
           "y": {"field": "v", "type": "quantitative", "scale": {"domain": [-0.0155, 0.8435], "nice": false, "zero": false}, "axis": {"values": [0, 0.2, 0.4, 0.6, 0.8], "labelExpr": "datum.value == 0 ? '0.' : format(datum.value, '.1f')", "title": "σ⁻¹dσ/dqₜ(GeV⁻¹)"}}}},
        {"data": {"name": "ymin"}, "mark": {"type": "rule"},
         "encoding": {
           "x": {"field": "r1", "type": "quantitative", "scale": {"domain": [-0.053, 2.555], "nice": false, "zero": false}, "axis": {"values": [0, 0.5, 1, 1.5, 2, 2.5], "labelExpr": "datum.value == 0 ? '0.' : (datum.value % 1 == 0 ? format(datum.value, 'd') + '.' : format(datum.value, '.1f'))", "title": "qₜ(GeV)"}},
           "x2": {"field": "r2"},
           "y": {"field": "v", "type": "quantitative", "scale": {"domain": [-0.0155, 0.8435], "nice": false, "zero": false}, "axis": {"values": [0, 0.2, 0.4, 0.6, 0.8], "labelExpr": "datum.value == 0 ? '0.' : format(datum.value, '.1f')", "title": "σ⁻¹dσ/dqₜ(GeV⁻¹)"}}}},
        {"data": {"name": "bot_theory"}, "mark": {"type": "line", "stroke": "#ee1111", "strokeWidth": 1.3, "strokeDash": [5, 3], "clip": true},
         "encoding": {
           "x": {"field": "x", "type": "quantitative", "scale": {"domain": [-0.053, 2.555], "nice": false, "zero": false}, "axis": {"values": [0, 0.5, 1, 1.5, 2, 2.5], "labelExpr": "datum.value == 0 ? '0.' : (datum.value % 1 == 0 ? format(datum.value, 'd') + '.' : format(datum.value, '.1f'))", "title": "qₜ(GeV)"}},
           "y": {"field": "u", "type": "quantitative", "scale": {"domain": [-0.0155, 0.8435], "nice": false, "zero": false}, "axis": {"values": [0, 0.2, 0.4, 0.6, 0.8], "labelExpr": "datum.value == 0 ? '0.' : format(datum.value, '.1f')", "title": "σ⁻¹dσ/dqₜ(GeV⁻¹)"}}}},
        {"data": {"name": "bot_theory"}, "mark": {"type": "line", "stroke": "#1a1aff", "strokeWidth": 1.3, "strokeDash": [5, 3], "clip": true},
         "encoding": {
           "x": {"field": "x", "type": "quantitative", "scale": {"domain": [-0.053, 2.555], "nice": false, "zero": false}, "axis": {"values": [0, 0.5, 1, 1.5, 2, 2.5], "labelExpr": "datum.value == 0 ? '0.' : (datum.value % 1 == 0 ? format(datum.value, 'd') + '.' : format(datum.value, '.1f'))", "title": "qₜ(GeV)"}},
           "y": {"field": "d", "type": "quantitative", "scale": {"domain": [-0.0155, 0.8435], "nice": false, "zero": false}, "axis": {"values": [0, 0.2, 0.4, 0.6, 0.8], "labelExpr": "datum.value == 0 ? '0.' : format(datum.value, '.1f')", "title": "σ⁻¹dσ/dqₜ(GeV⁻¹)"}}}},
        {"data": {"name": "bot_theory"}, "mark": {"type": "line", "stroke": "#ff8000", "strokeWidth": 1.3, "strokeDash": [5, 3], "clip": true},
         "encoding": {
           "x": {"field": "x", "type": "quantitative", "scale": {"domain": [-0.053, 2.555], "nice": false, "zero": false}, "axis": {"values": [0, 0.5, 1, 1.5, 2, 2.5], "labelExpr": "datum.value == 0 ? '0.' : (datum.value % 1 == 0 ? format(datum.value, 'd') + '.' : format(datum.value, '.1f'))", "title": "qₜ(GeV)"}},
           "y": {"field": "s", "type": "quantitative", "scale": {"domain": [-0.0155, 0.8435], "nice": false, "zero": false}, "axis": {"values": [0, 0.2, 0.4, 0.6, 0.8], "labelExpr": "datum.value == 0 ? '0.' : format(datum.value, '.1f')", "title": "σ⁻¹dσ/dqₜ(GeV⁻¹)"}}}},
        {"data": {"name": "bot_theory"}, "mark": {"type": "line", "strokeWidth": 1.5, "clip": true},
         "encoding": {
           "x": {"field": "x", "type": "quantitative", "scale": {"domain": [-0.053, 2.555], "nice": false, "zero": false}, "axis": {"values": [0, 0.5, 1, 1.5, 2, 2.5], "labelExpr": "datum.value == 0 ? '0.' : (datum.value % 1 == 0 ? format(datum.value, 'd') + '.' : format(datum.value, '.1f'))", "title": "qₜ(GeV)"}},
           "y": {"field": "total", "type": "quantitative", "scale": {"domain": [-0.0155, 0.8435], "nice": false, "zero": false}, "axis": {"values": [0, 0.2, 0.4, 0.6, 0.8], "labelExpr": "datum.value == 0 ? '0.' : format(datum.value, '.1f')", "title": "σ⁻¹dσ/dqₜ(GeV⁻¹)"}},
           "color": {"datum": "Factorization (Total)", "type": "nominal", "scale": {"domain": ["Pythia", "Factorization (Total)"], "range": ["#555555", "#000000"]},
             "legend": {"title": null, "orient": "none", "legendX": 305, "legendY": 34, "padding": 0, "labelFont": "Liberation Sans", "labelFontSize": 21, "labelColor": "#000000", "labelOffset": 4, "labelLimit": 400, "rowPadding": 4, "symbolSize": 144, "symbolStrokeWidth": 1.3,
               "encode": {"symbols": {"update": {
                 "shape": {"signal": "datum.value === 'Pythia' ? 'M-1,0H1M-1,-0.45V0.45M1,-0.45V0.45M-0.4,0A0.4,0.4,0,1,0,0.4,0A0.4,0.4,0,1,0,-0.4,0Z' : 'M-1,0H1'"},
                 "fill": {"signal": "datum.value === 'Pythia' ? '#555555' : 'transparent'"},
                 "stroke": {"signal": "datum.value === 'Pythia' ? '#555555' : '#000000'"},
                 "opacity": {"value": 1}}}}}}}},
        {"data": {"name": "bot_pythia"}, "mark": {"type": "rule", "stroke": "#666666", "strokeWidth": 1, "clip": true},
         "encoding": {
           "x": {"field": "xlo", "type": "quantitative", "scale": {"domain": [-0.053, 2.555], "nice": false, "zero": false}, "axis": {"values": [0, 0.5, 1, 1.5, 2, 2.5], "labelExpr": "datum.value == 0 ? '0.' : (datum.value % 1 == 0 ? format(datum.value, 'd') + '.' : format(datum.value, '.1f'))", "title": "qₜ(GeV)"}},
           "x2": {"field": "xhi"},
           "y": {"field": "y", "type": "quantitative", "scale": {"domain": [-0.0155, 0.8435], "nice": false, "zero": false}, "axis": {"values": [0, 0.2, 0.4, 0.6, 0.8], "labelExpr": "datum.value == 0 ? '0.' : format(datum.value, '.1f')", "title": "σ⁻¹dσ/dqₜ(GeV⁻¹)"}}}},
        {"data": {"name": "bot_pythia"}, "mark": {"type": "rule", "stroke": "#666666", "strokeWidth": 1, "clip": true},
         "encoding": {
           "x": {"field": "x", "type": "quantitative", "scale": {"domain": [-0.053, 2.555], "nice": false, "zero": false}, "axis": {"values": [0, 0.5, 1, 1.5, 2, 2.5], "labelExpr": "datum.value == 0 ? '0.' : (datum.value % 1 == 0 ? format(datum.value, 'd') + '.' : format(datum.value, '.1f'))", "title": "qₜ(GeV)"}},
           "y": {"field": "ylo", "type": "quantitative", "scale": {"domain": [-0.0155, 0.8435], "nice": false, "zero": false}, "axis": {"values": [0, 0.2, 0.4, 0.6, 0.8], "labelExpr": "datum.value == 0 ? '0.' : format(datum.value, '.1f')", "title": "σ⁻¹dσ/dqₜ(GeV⁻¹)"}},
           "y2": {"field": "yhi"}}},
        {"data": {"name": "bot_pythia"}, "transform": [{"fold": ["xlo", "xhi"], "as": ["k", "xc"]}],
         "mark": {"type": "tick", "orient": "vertical", "color": "#666666", "size": 6, "thickness": 1, "clip": true},
         "encoding": {
           "x": {"field": "xc", "type": "quantitative", "scale": {"domain": [-0.053, 2.555], "nice": false, "zero": false}, "axis": {"values": [0, 0.5, 1, 1.5, 2, 2.5], "labelExpr": "datum.value == 0 ? '0.' : (datum.value % 1 == 0 ? format(datum.value, 'd') + '.' : format(datum.value, '.1f'))", "title": "qₜ(GeV)"}},
           "y": {"field": "y", "type": "quantitative", "scale": {"domain": [-0.0155, 0.8435], "nice": false, "zero": false}, "axis": {"values": [0, 0.2, 0.4, 0.6, 0.8], "labelExpr": "datum.value == 0 ? '0.' : format(datum.value, '.1f')", "title": "σ⁻¹dσ/dqₜ(GeV⁻¹)"}}}},
        {"data": {"name": "bot_pythia"}, "transform": [{"fold": ["ylo", "yhi"], "as": ["k", "yc"]}],
         "mark": {"type": "tick", "orient": "horizontal", "color": "#666666", "size": 6, "thickness": 1, "clip": true},
         "encoding": {
           "x": {"field": "x", "type": "quantitative", "scale": {"domain": [-0.053, 2.555], "nice": false, "zero": false}, "axis": {"values": [0, 0.5, 1, 1.5, 2, 2.5], "labelExpr": "datum.value == 0 ? '0.' : (datum.value % 1 == 0 ? format(datum.value, 'd') + '.' : format(datum.value, '.1f'))", "title": "qₜ(GeV)"}},
           "y": {"field": "yc", "type": "quantitative", "scale": {"domain": [-0.0155, 0.8435], "nice": false, "zero": false}, "axis": {"values": [0, 0.2, 0.4, 0.6, 0.8], "labelExpr": "datum.value == 0 ? '0.' : format(datum.value, '.1f')", "title": "σ⁻¹dσ/dqₜ(GeV⁻¹)"}}}},
        {"data": {"name": "bot_pythia"}, "mark": {"type": "point", "filled": true, "size": 22, "opacity": 1, "clip": true},
         "encoding": {
           "x": {"field": "x", "type": "quantitative", "scale": {"domain": [-0.053, 2.555], "nice": false, "zero": false}, "axis": {"values": [0, 0.5, 1, 1.5, 2, 2.5], "labelExpr": "datum.value == 0 ? '0.' : (datum.value % 1 == 0 ? format(datum.value, 'd') + '.' : format(datum.value, '.1f'))", "title": "qₜ(GeV)"}},
           "y": {"field": "y", "type": "quantitative", "scale": {"domain": [-0.0155, 0.8435], "nice": false, "zero": false}, "axis": {"values": [0, 0.2, 0.4, 0.6, 0.8], "labelExpr": "datum.value == 0 ? '0.' : format(datum.value, '.1f')", "title": "σ⁻¹dσ/dqₜ(GeV⁻¹)"}},
           "color": {"datum": "Pythia", "type": "nominal", "scale": {"domain": ["Pythia", "Factorization (Total)"], "range": ["#555555", "#000000"]}}}},
        {"data": {"values": [{"x": 1.341, "y": 0.322, "label": "u quark channel only"}]}, "mark": {"type": "text", "color": "#ff2020", "fontSize": 13, "angle": 20, "align": "center", "baseline": "middle"},
         "encoding": {
           "x": {"field": "x", "type": "quantitative", "scale": {"domain": [-0.053, 2.555], "nice": false, "zero": false}, "axis": {"values": [0, 0.5, 1, 1.5, 2, 2.5], "labelExpr": "datum.value == 0 ? '0.' : (datum.value % 1 == 0 ? format(datum.value, 'd') + '.' : format(datum.value, '.1f'))", "title": "qₜ(GeV)"}},
           "y": {"field": "y", "type": "quantitative", "scale": {"domain": [-0.0155, 0.8435], "nice": false, "zero": false}, "axis": {"values": [0, 0.2, 0.4, 0.6, 0.8], "labelExpr": "datum.value == 0 ? '0.' : format(datum.value, '.1f')", "title": "σ⁻¹dσ/dqₜ(GeV⁻¹)"}},
           "text": {"field": "label"}}},
        {"data": {"values": [{"x": 0.796, "y": 0.185, "label": "d quark channel only"}]}, "mark": {"type": "text", "color": "#5a5aff", "fontSize": 13, "align": "center", "baseline": "middle"},
         "encoding": {
           "x": {"field": "x", "type": "quantitative", "scale": {"domain": [-0.053, 2.555], "nice": false, "zero": false}, "axis": {"values": [0, 0.5, 1, 1.5, 2, 2.5], "labelExpr": "datum.value == 0 ? '0.' : (datum.value % 1 == 0 ? format(datum.value, 'd') + '.' : format(datum.value, '.1f'))", "title": "qₜ(GeV)"}},
           "y": {"field": "y", "type": "quantitative", "scale": {"domain": [-0.0155, 0.8435], "nice": false, "zero": false}, "axis": {"values": [0, 0.2, 0.4, 0.6, 0.8], "labelExpr": "datum.value == 0 ? '0.' : format(datum.value, '.1f')", "title": "σ⁻¹dσ/dqₜ(GeV⁻¹)"}},
           "text": {"field": "label"}}},
        {"data": {"values": [{"x": 1.548, "y": 0.067, "label": "sea quark channel only"}]}, "mark": {"type": "text", "color": "#ff9020", "fontSize": 13, "angle": 3, "align": "center", "baseline": "middle"},
         "encoding": {
           "x": {"field": "x", "type": "quantitative", "scale": {"domain": [-0.053, 2.555], "nice": false, "zero": false}, "axis": {"values": [0, 0.5, 1, 1.5, 2, 2.5], "labelExpr": "datum.value == 0 ? '0.' : (datum.value % 1 == 0 ? format(datum.value, 'd') + '.' : format(datum.value, '.1f'))", "title": "qₜ(GeV)"}},
           "y": {"field": "y", "type": "quantitative", "scale": {"domain": [-0.0155, 0.8435], "nice": false, "zero": false}, "axis": {"values": [0, 0.2, 0.4, 0.6, 0.8], "labelExpr": "datum.value == 0 ? '0.' : format(datum.value, '.1f')", "title": "σ⁻¹dσ/dqₜ(GeV⁻¹)"}},
           "text": {"field": "label"}}},
        {"data": {"values": [{"x": 0.063, "y": 0.677}]}, "mark": {"type": "text", "text": "Q", "fontSize": 28, "color": "#000000", "align": "left", "baseline": "alphabetic"},
         "encoding": {
           "x": {"field": "x", "type": "quantitative", "scale": {"domain": [-0.053, 2.555], "nice": false, "zero": false}, "axis": {"values": [0, 0.5, 1, 1.5, 2, 2.5], "labelExpr": "datum.value == 0 ? '0.' : (datum.value % 1 == 0 ? format(datum.value, 'd') + '.' : format(datum.value, '.1f'))", "title": "qₜ(GeV)"}},
           "y": {"field": "y", "type": "quantitative", "scale": {"domain": [-0.0155, 0.8435], "nice": false, "zero": false}, "axis": {"values": [0, 0.2, 0.4, 0.6, 0.8], "labelExpr": "datum.value == 0 ? '0.' : format(datum.value, '.1f')", "title": "σ⁻¹dσ/dqₜ(GeV⁻¹)"}}}},
        {"data": {"values": [{"x": 0.063, "y": 0.677}]}, "mark": {"type": "text", "text": "κ", "fontSize": 20, "fontStyle": "italic", "color": "#000000", "align": "left", "baseline": "alphabetic", "dx": 20, "dy": 4},
         "encoding": {
           "x": {"field": "x", "type": "quantitative", "scale": {"domain": [-0.053, 2.555], "nice": false, "zero": false}, "axis": {"values": [0, 0.5, 1, 1.5, 2, 2.5], "labelExpr": "datum.value == 0 ? '0.' : (datum.value % 1 == 0 ? format(datum.value, 'd') + '.' : format(datum.value, '.1f'))", "title": "qₜ(GeV)"}},
           "y": {"field": "y", "type": "quantitative", "scale": {"domain": [-0.0155, 0.8435], "nice": false, "zero": false}, "axis": {"values": [0, 0.2, 0.4, 0.6, 0.8], "labelExpr": "datum.value == 0 ? '0.' : format(datum.value, '.1f')", "title": "σ⁻¹dσ/dqₜ(GeV⁻¹)"}}}},
        {"data": {"values": [{"x": 0.063, "y": 0.677}]}, "mark": {"type": "text", "text": "≤", "fontSize": 28, "color": "#000000", "align": "left", "baseline": "alphabetic", "dx": 37},
         "encoding": {
           "x": {"field": "x", "type": "quantitative", "scale": {"domain": [-0.053, 2.555], "nice": false, "zero": false}, "axis": {"values": [0, 0.5, 1, 1.5, 2, 2.5], "labelExpr": "datum.value == 0 ? '0.' : (datum.value % 1 == 0 ? format(datum.value, 'd') + '.' : format(datum.value, '.1f'))", "title": "qₜ(GeV)"}},
           "y": {"field": "y", "type": "quantitative", "scale": {"domain": [-0.0155, 0.8435], "nice": false, "zero": false}, "axis": {"values": [0, 0.2, 0.4, 0.6, 0.8], "labelExpr": "datum.value == 0 ? '0.' : format(datum.value, '.1f')", "title": "σ⁻¹dσ/dqₜ(GeV⁻¹)"}}}},
        {"data": {"values": [{"x": 0.063, "y": 0.677}]}, "mark": {"type": "text", "text": "−", "fontSize": 28, "color": "#000000", "align": "left", "baseline": "alphabetic", "dx": 56},
         "encoding": {
           "x": {"field": "x", "type": "quantitative", "scale": {"domain": [-0.053, 2.555], "nice": false, "zero": false}, "axis": {"values": [0, 0.5, 1, 1.5, 2, 2.5], "labelExpr": "datum.value == 0 ? '0.' : (datum.value % 1 == 0 ? format(datum.value, 'd') + '.' : format(datum.value, '.1f'))", "title": "qₜ(GeV)"}},
           "y": {"field": "y", "type": "quantitative", "scale": {"domain": [-0.0155, 0.8435], "nice": false, "zero": false}, "axis": {"values": [0, 0.2, 0.4, 0.6, 0.8], "labelExpr": "datum.value == 0 ? '0.' : format(datum.value, '.1f')", "title": "σ⁻¹dσ/dqₜ(GeV⁻¹)"}}}},
        {"data": {"values": [{"x": 0.063, "y": 0.677}]}, "mark": {"type": "text", "text": "0.25", "fontSize": 28, "color": "#000000", "align": "left", "baseline": "alphabetic", "dx": 81},
         "encoding": {
           "x": {"field": "x", "type": "quantitative", "scale": {"domain": [-0.053, 2.555], "nice": false, "zero": false}, "axis": {"values": [0, 0.5, 1, 1.5, 2, 2.5], "labelExpr": "datum.value == 0 ? '0.' : (datum.value % 1 == 0 ? format(datum.value, 'd') + '.' : format(datum.value, '.1f'))", "title": "qₜ(GeV)"}},
           "y": {"field": "y", "type": "quantitative", "scale": {"domain": [-0.0155, 0.8435], "nice": false, "zero": false}, "axis": {"values": [0, 0.2, 0.4, 0.6, 0.8], "labelExpr": "datum.value == 0 ? '0.' : format(datum.value, '.1f')", "title": "σ⁻¹dσ/dqₜ(GeV⁻¹)"}}}}
      ]
    }
  ]
}
